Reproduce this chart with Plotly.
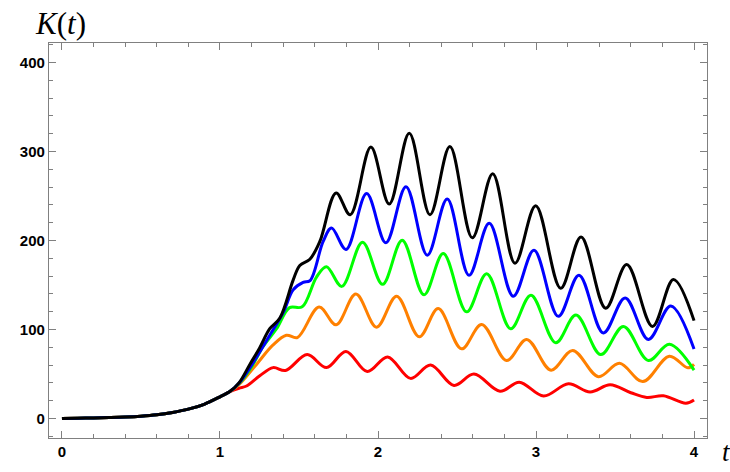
import plotly.graph_objects as go

# Common early part (all curves coincide)
t_early = [0.0, 0.1, 0.2, 0.3, 0.4, 0.5, 0.6, 0.7, 0.8, 0.9, 1.0, 1.06]
k_early = [0.0, 0.3, 0.6, 1.0, 1.6, 2.6, 4.2, 6.8, 10.5, 16.0, 24.4, 30.0]

t_red = [1.12, 1.168, 1.252, 1.336, 1.415, 1.552, 1.674, 1.797, 1.932, 2.061, 2.206, 2.333,
         2.481, 2.607, 2.772, 2.894, 3.048, 3.205, 3.342, 3.469, 3.6, 3.701, 3.806, 3.948, 4.0]
k_red = [34.0, 36.5, 48.0, 57.2, 54.0, 71.8, 57.2, 75.4, 52.8, 69.2, 45.1, 60.1,
         37.2, 49.9, 30.6, 40.8, 25.3, 39.0, 29.8, 37.9, 29.0, 23.7, 25.5, 17.1, 20.8]

t_orange = [1.12, 1.231, 1.336, 1.42, 1.49, 1.627, 1.735, 1.86, 1.991, 2.118, 2.261, 2.381,
            2.529, 2.656, 2.814, 2.941, 3.095, 3.232, 3.395, 3.528, 3.676, 3.844, 3.96, 4.0]
k_orange = [38.0, 60.8, 82.7, 93.6, 91.0, 125.2, 105.3, 139.9, 102.7, 137.4, 91.8, 123.5,
            78.3, 105.7, 65.2, 88.9, 54.3, 76.5, 47.0, 62.0, 41.5, 70.0, 57.0, 60.9]

t_green = [1.12, 1.2, 1.273, 1.358, 1.44, 1.52, 1.611, 1.674, 1.771, 1.902, 2.029, 2.153,
           2.291, 2.413, 2.561, 2.688, 2.84, 2.968, 3.125, 3.253, 3.41, 3.553, 3.711, 3.844, 4.0]
k_green = [39.0, 58.0, 80.9, 100.9, 124.6, 125.5, 159.0, 170.5, 148.5, 198.0, 150.8, 200.3,
           139.0, 185.4, 119.9, 162.8, 100.9, 138.5, 85.2, 116.2, 71.8, 103.5, 65.2, 83.4, 54.3]

t_blue = [1.12, 1.2, 1.315, 1.4, 1.463, 1.526, 1.57, 1.653, 1.706, 1.798, 1.928, 2.05, 2.177,
          2.312, 2.438, 2.576, 2.704, 2.856, 2.987, 3.141, 3.272, 3.426, 3.564, 3.711, 3.853, 4.0]
k_blue = [39.5, 60.0, 93.6, 119.0, 144.6, 153.0, 155.0, 199.0, 214.0, 190.0, 252.8, 197.5, 260.5,
          183.6, 246.6, 161.0, 219.3, 137.4, 189.0, 114.8, 161.0, 96.2, 135.5, 88.9, 126.4, 78.0]

t_black = [1.12, 1.189, 1.25, 1.315, 1.379, 1.463, 1.505, 1.569, 1.632, 1.735, 1.824, 1.955, 2.071,
           2.198, 2.329, 2.455, 2.597, 2.726, 2.867, 2.998, 3.156, 3.285, 3.441, 3.574, 3.737, 3.87, 4.0]
k_black = [40.0, 60.8, 79.0, 100.9, 113.0, 155.5, 172.0, 179.0, 199.0, 253.5, 229.0, 305.0, 241.0,
           320.6, 229.0, 305.6, 203.0, 275.0, 174.5, 239.0, 146.4, 204.0, 123.9, 173.0, 103.5, 156.3, 110.0]

series = [
    ("red", t_red, k_red, "#FF0000"),
    ("orange", t_orange, k_orange, "#FF8000"),
    ("green", t_green, k_green, "#00FF00"),
    ("blue", t_blue, k_blue, "#0000FF"),
    ("black", t_black, k_black, "#000000"),
]

fig = go.Figure()
for name, ts, ks, col in series:
    fig.add_trace(go.Scatter(
        x=t_early + ts, y=k_early + ks, mode="lines", name=name,
        line=dict(color=col, width=3, shape="spline", smoothing=1.0),
        showlegend=False,
    ))

frame = "#808080"
tickfont = dict(family="Liberation Sans, Arial", size=15, color="black", weight="bold")
fig.update_xaxes(
    range=[-0.082, 4.082], tick0=0, dtick=1, ticks="inside", ticklen=7, tickwidth=1,
    tickcolor=frame, showline=True, linecolor=frame, linewidth=1.2, mirror="allticks",
    showgrid=False, zeroline=False, tickfont=tickfont,
    minor=dict(tick0=0, dtick=0.2, ticks="inside", ticklen=4, tickcolor=frame, showgrid=False),
)
fig.update_yaxes(
    range=[-21.9, 422], tick0=0, dtick=100, ticks="inside", ticklen=7, tickwidth=1,
    tickcolor=frame, showline=True, linecolor=frame, linewidth=1.2, mirror="allticks",
    showgrid=False, zeroline=False, tickfont=tickfont,
    minor=dict(tick0=0, dtick=20, ticks="inside", ticklen=4, tickcolor=frame, showgrid=False),
)

fig.update_layout(
    width=730, height=472,
    margin=dict(l=49, r=23, t=43, b=23),
    paper_bgcolor="white", plot_bgcolor="white",
    annotations=[
        dict(text="<i>K</i>(<i>t</i>)", xref="paper", yref="paper", x=0.017, y=1.049,
             xanchor="center", yanchor="middle", showarrow=False,
             font=dict(family="Liberation Serif, Times New Roman", size=31, color="black")),
        dict(text="<i>t</i>", xref="paper", yref="paper", x=1.030, y=-0.035,
             xanchor="center", yanchor="middle", showarrow=False,
             font=dict(family="Liberation Serif, Times New Roman", size=27, color="black")),
    ],
)

fig.write_html("out.html")
